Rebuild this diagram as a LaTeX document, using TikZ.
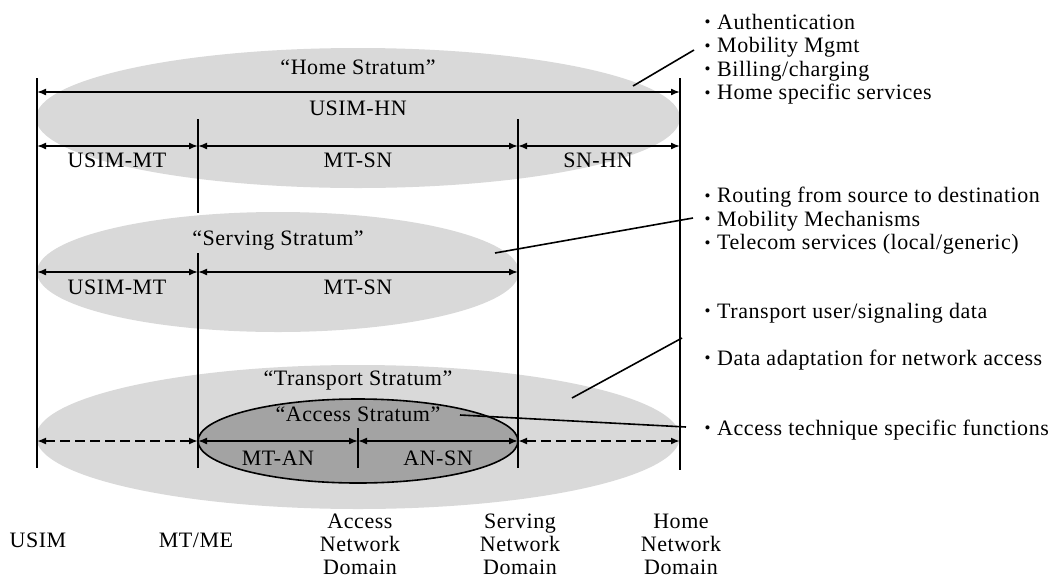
\documentclass[tikz,border=0pt]{standalone}
\usepackage{fontspec}
\setmainfont{Liberation Serif}[LetterSpace=2.5]
\usetikzlibrary{arrows.meta,shapes.geometric}

\definecolor{lightgrey}{RGB}{217,217,217}
\definecolor{darkgrey}{RGB}{163,163,163}

\newcommand{\bul}{\makebox[13pt][l]{\hspace{0.5pt}\raisebox{1.5pt}{\fontsize{17}{17}\selectfont•}}}

\begin{document}
\begin{tikzpicture}[
        x=1pt, y=-1pt,
        stratum/.style={
            ellipse,
            inner sep=0pt,
            fill=lightgrey,
        },
        accessbox/.style={
            fill=darkgrey,
            draw=black,
            line width=1.6pt,
        },
        borderline/.style={
            line width=2pt,
        },
        link/.style={
            line width=1.6pt,
            {Latex[length=9pt,width=7pt]}-{Latex[length=9pt,width=7pt]},
        },
        tunnel/.style={
            link,
            line width=2pt,
            dash pattern=on 10pt off 5pt,
        },
        leader/.style={
            line width=1.6pt,
        },
        txt/.style={
            font=\fontsize{22}{23.5}\selectfont,
            inner sep=0pt,
        },
        lbl/.style={
            txt,
            text height=14.5pt,
            text depth=0pt,
        },
        note/.style={
            txt,
            align=left,
            anchor=north west,
        },
        place/.style={
            txt,
            font=\fontsize{22}{23}\selectfont,
            align=center,
            anchor=north,
        },
    ]
        \path[use as bounding box, fill=white] (0,0) rectangle (1057,579);

        % strata
        \node [stratum, minimum width=644pt, minimum height=140pt] (home) at (358,118) {};
        \node [stratum, minimum width=482pt, minimum height=120pt] (serving) at (278,272) {};
        \node [stratum, minimum width=644pt, minimum height=144pt] (transport) at (358,437) {};
        \node [ellipse, accessbox, inner sep=0pt, minimum width=320pt, minimum height=84pt] (access) at (358,441) {};

        % domain borders
        \coordinate (usimT) at (37,78);   \coordinate (usimB) at (37,468);
        \coordinate (mtT) at (198,119);   \coordinate (mtM) at (198,213);
        \coordinate (mtN) at (198,253);   \coordinate (mtB) at (198,468);
        \coordinate (anT) at (358,428);   \coordinate (anB) at (358,468);
        \coordinate (snT) at (518,119);   \coordinate (snB) at (518,468);
        \coordinate (hnT) at (680,78);    \coordinate (hnB) at (680,470);

        \draw [borderline] (usimT) -- (usimB);
        \draw [borderline] (mtT) -- (mtM);
        \draw [borderline] (mtN) -- (mtB);
        \draw [borderline] (anT) -- (anB);
        \draw [borderline] (snT) -- (snB);
        \draw [borderline] (hnT) -- (hnB);

        % rows
        \coordinate (row1) at (0,92);
        \coordinate (row2) at (0,146);
        \coordinate (row3) at (0,272);
        \coordinate (row4) at (0,441);

        \draw [link] (usimT |- row1) -- (hnT |- row1);
        \draw [link] (usimT |- row2) -- (mtT |- row2);
        \draw [link] (mtT |- row2) -- (snT |- row2);
        \draw [link] (snT |- row2) -- (hnT |- row2);
        \draw [link] (usimT |- row3) -- (mtN |- row3);
        \draw [link] (mtN |- row3) -- (snT |- row3);
        \draw [tunnel] (usimT |- row4) -- (mtN |- row4);
        \draw [link] (mtN |- row4) -- (anT |- row4);
        \draw [link] (anT |- row4) -- (snT |- row4);
        \draw [tunnel] (snT |- row4) -- (hnT |- row4);

        % labels
        \node [lbl] (homeL) at (358,67) {“Home Stratum”};
        \node [lbl] (usimhn) at (358,108) {USIM-HN};
        \node [lbl] (usimmt1) at (117,160) {USIM-MT};
        \node [lbl] (mtsn1) at (358,160) {MT-SN};
        \node [lbl] (snhn) at (598,160) {SN-HN};
        \node [lbl] (servingL) at (278,238) {“Serving Stratum”};
        \node [lbl] (usimmt2) at (117,287) {USIM-MT};
        \node [lbl] (mtsn2) at (358,287) {MT-SN};
        \node [lbl] (transportL) at (358,378) {“Transport Stratum”};
        \node [lbl] (accessL) at (358,414) {“Access Stratum”};
        \node [lbl] (mtan) at (278,458) {MT-AN};
        \node [lbl] (ansn) at (438,458) {AN-SN};

        % domains
        \node [lbl] (usim) at (38,540) {USIM};
        \node [lbl] (mtme) at (196,540) {MT/ME};
        \node [place] (andom) at (360,514) {Access\\Network\\Domain};
        \node [place] (sndom) at (520,514) {Serving\\Network\\Domain};
        \node [place] (hndom) at (681,514) {Home\\Network\\Domain};

        % functions
        \node [note] (homeF) at (704,14) {\bul Authentication\\\bul Mobility Mgmt\\\bul Billing/charging\\\bul Home specific services};
        \node [note] (servingF) at (704,187) {\bul Routing from source to destination\\\bul Mobility Mechanisms\\\bul Telecom services (local/generic)};
        \node [lbl, anchor=west] (transportF1) at (704,311) {\bul Transport user/signaling data};
        \node [lbl, anchor=west] (transportF2) at (704,358) {\bul Data adaptation for network access};
        \node [lbl, anchor=west] (accessF) at (704,428) {\bul Access technique specific functions};

        % leaders
        \coordinate (homeA) at (633,86);       \coordinate (homeB) at (694,50);
        \coordinate (servingA) at (495,253);   \coordinate (servingB) at (693,218);
        \coordinate (transportA) at (572,398); \coordinate (transportB) at (682,338);
        \coordinate (accessA) at (460,415);    \coordinate (accessB) at (686,427);

        \draw [leader] (homeA) -- (homeB);
        \draw [leader] (servingA) -- (servingB);
        \draw [leader] (transportA) -- (transportB);
        \draw [leader] (accessA) -- (accessB);
    \end{tikzpicture}
\end{document}
